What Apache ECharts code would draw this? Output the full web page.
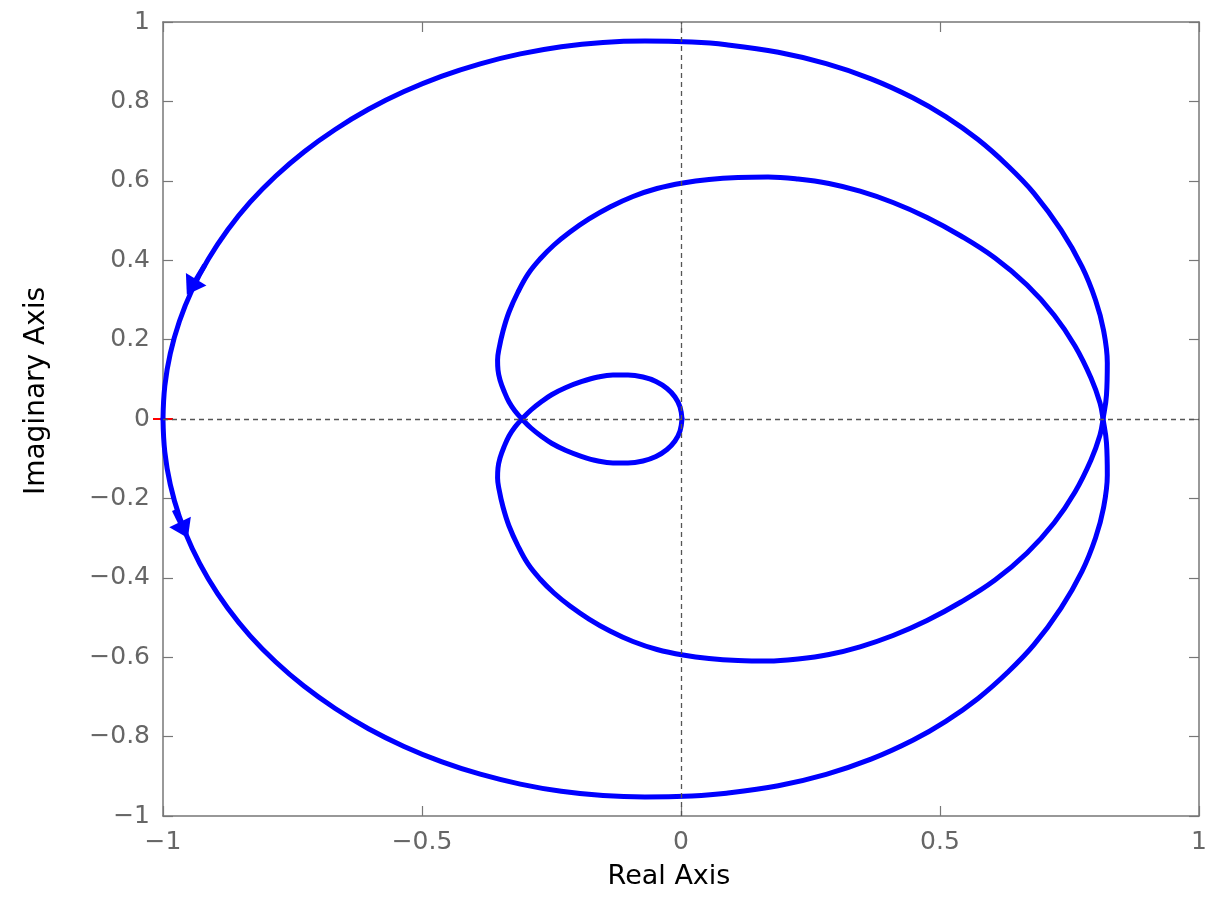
<!DOCTYPE html>
<html>
<head>
<meta charset="utf-8">
<script src="https://cdn.jsdelivr.net/npm/echarts@6/dist/echarts.min.js"></script>
<style>
html,body{margin:0;padding:0;background:#fff;}
#chart{width:1222px;height:898px;}
</style>
</head>
<body>
<div id="chart"></div>
<script>
// ---- data (Nyquist diagram) ----
// outer loop, upper half, from (-1,0) to the right crossing
const outerRe = [-1.0000,-0.9965,-0.9859,-0.9683,-0.9438,-0.9127,-0.8753,-0.8319,-0.7822,-0.7274,-0.6676,-0.6033,-0.5347,-0.4627,-0.3876,-0.3102,-0.2311,-0.1506,-0.0695,0.0212,0.0876,0.1878,0.2803,0.3668,0.4475,0.5110,0.5728,0.6307,0.6815,0.7336,0.7741,0.8002,0.8156,0.8230,0.8214,0.8147];
const outerIm = [0,0.0831,0.1652,0.2463,0.3257,0.4023,0.4761,0.5461,0.6121,0.6733,0.7292,0.7801,0.8247,0.8630,0.8947,0.9196,0.9378,0.9486,0.9521,0.9494,0.9426,0.9237,0.8950,0.8569,0.8093,0.7617,0.7045,0.6380,0.5685,0.4761,0.3836,0.2997,0.2242,0.1411,0.0605,0];
const outerImLower = [0,-0.0831,-0.1652,-0.2463,-0.3257,-0.4023,-0.4761,-0.5461,-0.6121,-0.6733,-0.7292,-0.7801,-0.8247,-0.8630,-0.8947,-0.9196,-0.9378,-0.9486,-0.9521,-0.9494,-0.9426,-0.9237,-0.8950,-0.8569,-0.8093,-0.7617,-0.7045,-0.6380,-0.5685,-0.4761,-0.3836,-0.2997,-0.2242,-0.1411,-0.0605,0];
// middle loop, upper half, from the right crossing to the left crossing
const middleRe = [0.8147,0.8089,0.7915,0.7606,0.7201,0.6680,0.6062,0.5405,0.4749,0.4093,0.3456,0.2857,0.2259,0.1680,0.1100,0.0541,0.0039,-0.0463,-0.0927,-0.1371,-0.1776,-0.2143,-0.2452,-0.2722,-0.2954,-0.3147,-0.3320,-0.3436,-0.3514,-0.3541,-0.3533,-0.3494,-0.3417,-0.3320,-0.3205,-0.3069];
const middleIm = [0,0.0403,0.1033,0.1839,0.2620,0.3375,0.4055,0.4610,0.5076,0.5453,0.5738,0.5932,0.6045,0.6096,0.6083,0.6033,0.5945,0.5806,0.5605,0.5340,0.5038,0.4710,0.4383,0.4030,0.3652,0.3199,0.2695,0.2217,0.1763,0.1486,0.1234,0.0982,0.0705,0.0428,0.0202,0];
const middleImLower = [0,-0.0403,-0.1033,-0.1839,-0.2620,-0.3375,-0.4055,-0.4610,-0.5076,-0.5453,-0.5738,-0.5932,-0.6045,-0.6096,-0.6083,-0.6033,-0.5945,-0.5806,-0.5605,-0.5340,-0.5038,-0.4710,-0.4383,-0.4030,-0.3652,-0.3199,-0.2695,-0.2217,-0.1763,-0.1486,-0.1234,-0.0982,-0.0705,-0.0428,-0.0202,0];
// small loop, lower half, from the left crossing to the origin
const smallRe = [-0.3069,-0.2896,-0.2703,-0.2490,-0.2220,-0.1911,-0.1602,-0.1313,-0.1023,-0.0734,-0.0483,-0.0270,-0.0116,-0.0019,0.0019];
const smallIm = [0,-0.0227,-0.0428,-0.0617,-0.0793,-0.0945,-0.1058,-0.1108,-0.1108,-0.1058,-0.0945,-0.0768,-0.0554,-0.0302,0];
const smallImUpper = [0,0.0227,0.0428,0.0617,0.0793,0.0945,0.1058,0.1108,0.1108,0.1058,0.0945,0.0768,0.0554,0.0302,0];
// direction arrows: [tail, head] points on the curve
const arrowTailRe = [-0.9193,-0.9783];
const arrowTailIm = [0.3879,-0.2292];
const arrowHeadRe = [-0.9450,-0.9595];
const arrowHeadIm = [0.3325,-0.2796];
// critical point
const critRe = [-1];
const critIm = [0];
// tick labels
const realTicks = ['\u22121','\u22120.5','0','0.5','1'];
const imagTicks = ['\u22121','\u22120.8','\u22120.6','\u22120.4','\u22120.2','0','0.2','0.4','0.6','0.8','1'];

// ---- build ----
function zip(re, im){ return re.map((r,i)=>[r, im[i]]); }
const pathNeg = zip(outerRe, outerIm)
  .concat(zip(middleRe, middleImLower).slice(1))
  .concat(zip(smallRe, smallImUpper).slice(1));
const pathPos = zip(outerRe, outerImLower)
  .concat(zip(middleRe, middleIm).slice(1))
  .concat(zip(smallRe, smallIm).slice(1));
const arrowLines = arrowTailRe.map((r,i)=>[
  {coord:[r, arrowTailIm[i]]},
  {coord:[arrowHeadRe[i], arrowHeadIm[i]]}
]);

const FONT = 'DejaVu Sans';
const AX = '#777777';
const LBL = '#666666';
const BLUE = '#0000ff';

const chart = echarts.init(document.getElementById('chart'), null, {renderer:'canvas'});
const baseX = {
  type:'value', min:-1, max:1, interval:0.5,
  axisLine:{show:true, onZero:false, lineStyle:{color:AX, width:1.5}},
  axisTick:{show:true, inside:true, length:10, lineStyle:{color:AX, width:1.2}},
  splitLine:{show:false}
};
const baseY = {
  type:'value', min:-1, max:1, interval:0.2,
  axisLine:{show:true, onZero:false, lineStyle:{color:AX, width:1.5}},
  axisTick:{show:true, inside:true, length:10, lineStyle:{color:AX, width:1.2}},
  splitLine:{show:false}
};
const lineStyle = {color:BLUE, width:5, cap:'round', join:'round'};
chart.setOption({
  animation:false,
  backgroundColor:'#ffffff',
  grid:{left:163, right:23, top:22, bottom:82, containLabel:false},
  xAxis:[
    Object.assign({}, baseX, {
      position:'bottom',
      name:'Real Axis', nameLocation:'middle', nameGap:47,
      nameTextStyle:{fontFamily:FONT, fontSize:27, color:'#000', padding:[0,24,0,0]},
      axisLabel:{show:true, margin:14, fontFamily:FONT, fontSize:25, color:LBL,
        formatter:(v)=>realTicks[Math.round((v+1)/0.5)]}
    }),
    Object.assign({}, baseX, {position:'top', axisLabel:{show:false}})
  ],
  yAxis:[
    Object.assign({}, baseY, {
      position:'left',
      name:'Imaginary Axis', nameLocation:'middle', nameGap:112, nameRotate:90,
      nameTextStyle:{fontFamily:FONT, fontSize:28, color:'#000', padding:[0,0,0,56]},
      axisLabel:{show:true, margin:13, fontFamily:FONT, fontSize:25, color:LBL,
        formatter:(v)=>imagTicks[Math.round((v+1)/0.2)]}
    }),
    Object.assign({}, baseY, {position:'right', axisLabel:{show:false}})
  ],
  series:[
    {
      type:'line', data:[], z:1, silent:true,
      markLine:{
        silent:true, symbol:['none','none'], label:{show:false},
        lineStyle:{color:'#555555', width:1.3, type:[5,4]},
        emphasis:{disabled:true},
        data:[{xAxis:0},{yAxis:0}]
      }
    },
    {
      type:'scatter', z:2, silent:true, clip:false,
      data: zip(critRe, critIm),
      symbol:'path://M0,9.2L20,9.2L20,10.8L0,10.8Z',
      symbolSize:[20,2],
      itemStyle:{color:'#ff0000', opacity:1}
    },
    {
      type:'line', z:3, data:pathNeg, showSymbol:false, smooth:0.4, silent:true,
      lineStyle:lineStyle
    },
    {
      type:'line', z:3, data:pathPos, showSymbol:false, smooth:0.4, silent:true,
      lineStyle:lineStyle
    },
    {
      type:'line', z:4, data:[], silent:true,
      markLine:{
        silent:true, symbol:['none','triangle'], symbolSize:[24,18], label:{show:false},
        lineStyle:{color:BLUE, width:5, type:'solid', opacity:1},
        emphasis:{disabled:true},
        data: arrowLines
      }
    }
  ]
});
</script>
</body>
</html>
